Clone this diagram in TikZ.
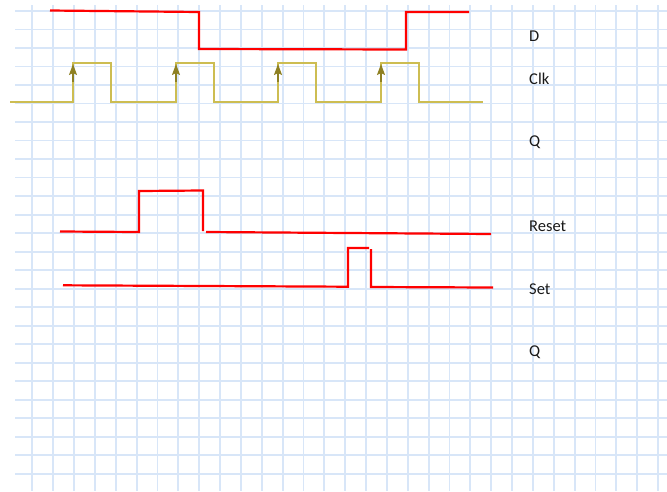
\documentclass[tikz,border=0pt]{standalone}
\usepackage{fontspec}
\setmainfont{Carlito}
\usepackage{xcolor}
\usepackage{tikz}
\usetikzlibrary{arrows.meta,positioning}
\definecolor{gridblue}{HTML}{D8E6F8}
\definecolor{clkline}{HTML}{CDBD52}
\definecolor{clktip}{HTML}{8E8022}

\begin{document}
\begin{tikzpicture}[x=1pt, y=-1pt, >=Stealth,
  gridline/.style={gridblue, line width=1.8pt},
  sig/.style={red, line width=2.2pt},
  clk/.style={clkline, line width=1.8pt},
  edge/.style={-{Stealth[length=11pt,width=8pt,inset=2pt]}, clktip, line width=1.4pt},
  lbl/.style={anchor=west, inner sep=0pt, font=\fontsize{16.5}{19}\selectfont, text=black!90}]
  \useasboundingbox (0,0) rectangle (667,491);
  % squared paper
  \foreach \k in {0,...,25}
    \draw[gridline] (15,11+18.51*\k) -- (667,11+18.51*\k);
  \foreach \k in {0,...,30}
    \draw[gridline] (32.3+20.86*\k,5) -- (32.3+20.86*\k,491);
  % D
  \draw[sig] (50,10.5) -- (199,12) -- (199,49) -- (406,49.5) -- (406,12) -- (469,12);
  % Clk with rising edges marked
  \draw[clk] (10,102) \foreach \x in {73,176,278,381} { -- (\x,102) -- (\x,63) -- (\x+38,63) -- (\x+38,102) } -- (483,102);
  \foreach \x in {73,176,278,381}
    \draw[edge] (\x,82) -- (\x,64);
  % Reset
  \draw[sig] (60,231.5) -- (139,232) -- (139,191) -- (203,190.5) -- (203,231);
  \draw[sig] (206,232) -- (491,234);
  % Set
  \draw[sig] (63,285.3) -- (348,286.7) -- (348,248) -- (369,248);
  \draw[sig] (371,249) -- (371,287) -- (493,287.5);
  % labels
  \node[lbl] (d) at (529,36) {D};
  \node[lbl] (clk) at (529,79) {Clk};
  \node[lbl] (q) at (529,142) {Q};
  \node[lbl] (reset) at (529,226.5) {Reset};
  \node[lbl] (set) at (529,289.5) {Set};
  \node[lbl] (qs) at (529,352) {Q};
\end{tikzpicture}
\end{document}
